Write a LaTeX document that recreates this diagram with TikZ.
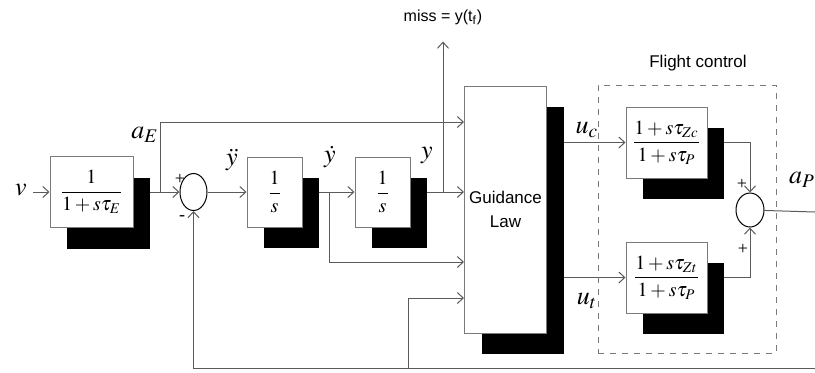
\documentclass[tikz,border=0pt]{standalone}
\usepackage{amsmath}
\usepackage{mathptmx}
\usepackage{fontspec}
\setmainfont{Liberation Serif}
\setsansfont{Liberation Sans}
\usepackage{tikz}
\usetikzlibrary{arrows.meta, shapes.geometric, shadows, backgrounds}
\definecolor{wiregray}{HTML}{5A5A5A}
\definecolor{framegray}{HTML}{7A7A7A}

\begin{document}
\begin{tikzpicture}[x=0.5pt, y=-0.5pt,
          wire/.style={draw=wiregray, line width=0.5pt},
          sig/.style={wire, -{Straight Barb[length=3pt, width=5.5pt]}},
          blk/.style={draw=framegray, fill=white, line width=0.5pt, inner sep=1pt,
                      drop shadow={shadow xshift=8.5pt, shadow yshift=-10.5pt,
                                   fill=black, opacity=1}},
          sumj/.style={ellipse, draw=black, fill=white, line width=0.5pt, inner sep=0pt},
          lbl/.style={font=\fontsize{13}{15}\selectfont, inner sep=0pt},
          sgn/.style={font=\fontsize{9}{10}\selectfont, inner sep=0pt},
          txt/.style={font=\sffamily\fontsize{8.5}{12}\selectfont, align=center}
        ]
        \useasboundingbox (0,0) rectangle (815,372);
        \node[blk, minimum width=41.5pt, minimum height=35.5pt] (E) at (91.5,192) {$\dfrac{1}{1+s\tau_{E}}$};
        \node[sumj, minimum width=13.5pt, minimum height=18.5pt] (S1) at (193.5,192) {};
        \node[blk, minimum width=27.5pt, minimum height=35pt] (I1) at (274.5,192) {$\dfrac{1}{s}$};
        \node[blk, minimum width=27.5pt, minimum height=35pt] (I2) at (382.5,192) {$\dfrac{1}{s}$};
        \node[blk, txt, minimum width=41pt, minimum height=123.5pt] (G) at (505.5,209.5) {Guidance\\Law};
        \node[draw=framegray, dashed, line width=0.5pt, minimum width=89pt, minimum height=134pt] (FC) at (687,219) {};
        \node[txt] (FClabel) at (698,63) {Flight control};
        \node[blk, minimum width=40.5pt, minimum height=35.5pt] (F1) at (666.5,142.5) {$\dfrac{1+s\tau_{Zc}}{1+s\tau_{P}}$};
        \node[blk, minimum width=40.5pt, minimum height=35.5pt] (F2) at (666.5,277.5) {$\dfrac{1+s\tau_{Zt}}{1+s\tau_{P}}$};
        \node[sumj, minimum width=14pt, minimum height=17pt] (S2) at (750,210) {};

        \node[lbl] (v) at (21,190) {$v$};
        \node[lbl] (aE) at (145,135) {$a_E$};
        \node[lbl] (ydd) at (232,160) {$\ddot{y}$};
        \node[lbl] (ydot) at (330,157) {$\dot{y}$};
        \node[lbl] (yout) at (427,155) {$y$};
        \node[lbl] (uc) at (587,130) {$u_c$};
        \node[lbl] (ut) at (587,301) {$u_t$};
        \node[lbl] (aP) at (802,180) {$a_P$};
        \node[txt, font=\sffamily\fontsize{8}{10}\selectfont] (miss) at (443,17) {miss = y(t\textsubscript{f})};
        \node[sgn] at (180,179) {+};
        \node[sgn] at (182,218) {-};
        \node[sgn] at (742,184) {+};
        \node[sgn] at (743,249) {+};

        \coordinate (vin) at (33,192);
        \coordinate (aEb) at (160,192);
        \coordinate (aEtop) at (160,122);
        \coordinate (yd) at (329,192);
        \coordinate (ydlow) at (329,262);
        \coordinate (yb) at (443,192);
        \coordinate (fbR) at (815,368);
        \coordinate (fbm) at (408,368);
        \coordinate (fbup) at (408,298);
        \coordinate (aPout) at (815,212);

        \begin{scope}[on background layer]
          \draw[sig] (vin) -- (E);
          \draw[sig] (E) -- (S1);
          \draw[sig] (aEb) -- (aEtop) -- (G.west |- aEtop);
          \draw[sig] (S1) -- (I1);
          \draw[sig] (I1) -- (I2);
          \draw[sig] (yd) -- (ydlow) -- (G.west |- ydlow);
          \draw[sig] (I2) -- (G.west |- I2);
          \draw[sig, shorten >=5pt] (yb) -- (miss);
          \draw[sig] (fbR) -| (S1);
          \draw[sig] (fbm) -- (fbup) -- (G.west |- fbup);
          \draw[sig] (G.east |- F1) -- (F1);
          \draw[sig] (G.east |- F2) -- (F2);
          \draw[sig] (F1) -| (S2);
          \draw[sig] (F2) -| (S2);
          \draw[wire] (S2) -- (aPout);
        \end{scope}
      \end{tikzpicture}
\end{document}
